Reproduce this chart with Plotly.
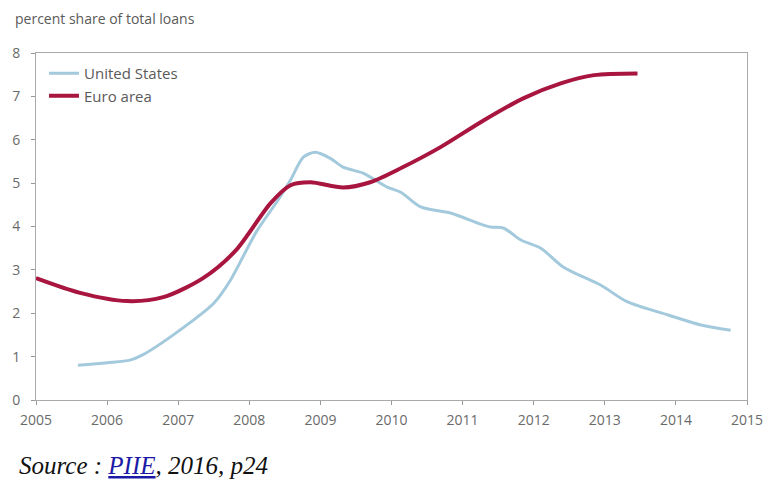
import plotly.graph_objects as go

us_x = [2005.59, 2006.0, 2006.32, 2006.5, 2006.99, 2007.5, 2007.73, 2008.1, 2008.4, 2008.58, 2008.76,
        2008.93, 2009.14, 2009.32, 2009.6, 2009.94, 2010.13, 2010.41, 2010.83, 2011.21, 2011.39,
        2011.58, 2011.82, 2012.1, 2012.42, 2012.94, 2013.32, 2013.89, 2014.35, 2014.77]
us_y = [0.80, 0.86, 0.92, 1.04, 1.57, 2.23, 2.75, 3.88, 4.6, 5.07, 5.6,
        5.71, 5.57, 5.37, 5.23, 4.91, 4.79, 4.45, 4.31, 4.08, 3.99,
        3.96, 3.69, 3.5, 3.06, 2.65, 2.26, 1.96, 1.73, 1.61]

ea_x = [2005.0, 2005.62, 2006.28, 2006.79, 2007.35, 2007.8, 2008.3, 2008.58, 2008.86, 2009.32,
        2009.7, 2010.15, 2010.69, 2011.3, 2011.86, 2012.38, 2012.85, 2013.46]
ea_y = [2.81, 2.47, 2.28, 2.37, 2.81, 3.43, 4.54, 4.95, 5.02, 4.9,
        5.02, 5.36, 5.83, 6.45, 6.96, 7.3, 7.49, 7.53]

x_ticks = list(range(2005, 2016))
y_ticks = list(range(0, 9))

fig = go.Figure()
fig.add_trace(go.Scatter(x=us_x, y=us_y, mode="lines", name="United States",
                         line=dict(color="#a3c9dc", width=3, shape="spline", smoothing=0.8)))
fig.add_trace(go.Scatter(x=ea_x, y=ea_y, mode="lines", name="Euro area",
                         line=dict(color="#a8153f", width=4, shape="spline", smoothing=0.8)))

axis_common = dict(showgrid=False, zeroline=False, showline=True, linecolor="#aaaaaa",
                   linewidth=1, mirror=True, ticks="outside", ticklen=4, tickcolor="#999999",
                   automargin=False,
                   tickfont=dict(family="Open Sans", size=14, color="#6a6a6a"))

fig.update_xaxes(range=[2005, 2015], tickvals=x_ticks, ticktext=[str(v) for v in x_ticks],
                 ticklabelstandoff=3, **axis_common)
fig.update_yaxes(range=[0, 8], tickvals=y_ticks, ticktext=[str(v) for v in y_ticks],
                 ticklabelstandoff=8, **axis_common)

W, H = 768, 481
l, r, t, b = 36, W - 747, 53, H - 400
pw, ph = W - l - r, H - t - b

def px2paper(px, py):
    return (px - l) / pw, 1 - (py - t) / ph

tx, ty = px2paper(13, 18)
sx, sy = px2paper(17, 465)
lx, ly = px2paper(44, 57)

fig.update_layout(
    width=W, height=H,
    margin=dict(l=l, r=r, t=t, b=b, autoexpand=False),
    paper_bgcolor="white", plot_bgcolor="white",
    showlegend=True,
    legend=dict(x=lx, y=ly, xanchor="left", yanchor="top", bgcolor="rgba(0,0,0,0)",
                font=dict(family="Open Sans", size=15, color="#5a5a5a"),
                itemwidth=30, tracegroupgap=0),
    annotations=[
        dict(text="percent share of total loans", x=tx, y=ty, xref="paper", yref="paper",
             showarrow=False, font=dict(family="Open Sans", size=14, color="#5a5a5a"),
             xanchor="left", yanchor="middle"),
        dict(text="<i>Source : <span style='color:#1a1aa6'><u>PIIE</u></span>, 2016, p24</i>",
             x=sx, y=sy, xref="paper", yref="paper", showarrow=False,
             font=dict(family="Liberation Serif", size=25, color="#111111"),
             xanchor="left", yanchor="middle"),
    ],
)

fig.write_html("out.html", config={"displayModeBar": False},
               post_script="document.body.style.margin='0px';document.body.style.overflow='hidden';")
